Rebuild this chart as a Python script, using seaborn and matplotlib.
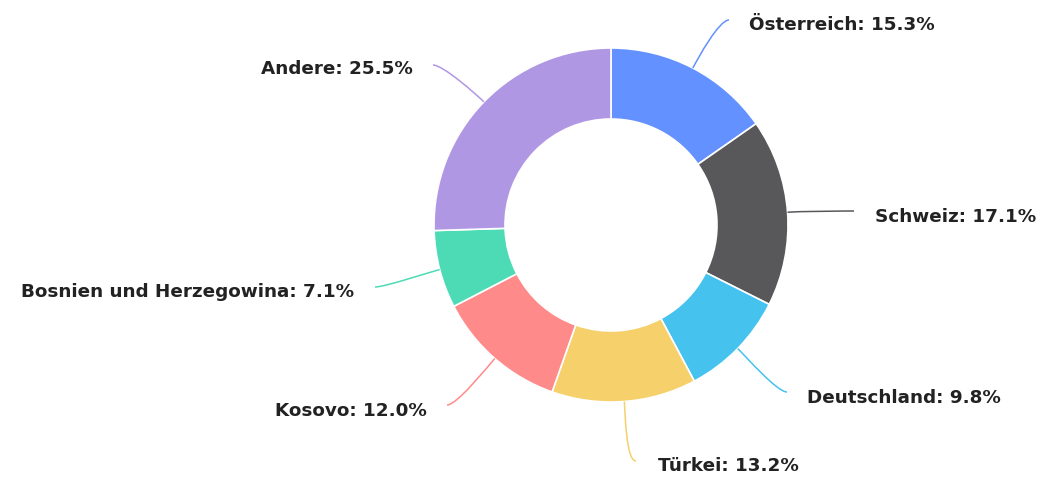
import numpy as np
import matplotlib
matplotlib.use("Agg")
import matplotlib.pyplot as plt
from matplotlib.path import Path
from matplotlib.patches import PathPatch
import seaborn as sns

# Herkunftsländer und Anteile in Prozent
countries = ["Österreich", "Schweiz", "Deutschland", "Türkei", "Kosovo",
             "Bosnien und Herzegowina", "Andere"]
shares = [15.3, 17.1, 9.8, 13.2, 12.0, 7.1, 25.5]
colors = ["#6391FF", "#58585B", "#46C2EF", "#F5D06B", "#FF8A8A",
          "#4DDBB6", "#B097E4"]

sns.set_theme(style="white")
plt.rcParams["font.family"] = ["DejaVu Sans"]

W, H = 1042, 478
fig = plt.figure(figsize=(W / 100, H / 100), dpi=100)
ax = fig.add_axes([0, 0, 1, 1])

cx, cy = 611, H - 225
r_out, r_in = 177, 106

wedges, _ = ax.pie(shares, colors=colors, startangle=90, counterclock=False,
                   center=(cx, cy), radius=r_out, frame=True,
                   wedgeprops=dict(width=r_out - r_in, edgecolor="white",
                                   linewidth=1.2))
ax.set_xlim(0, W)
ax.set_ylim(0, H)
ax.set_aspect("equal")
ax.axis("off")

# Endpunkte der Verbindungslinien und Textanker (Pixel, y von oben)
label_layout = [
    ((729, 20), (749, 30), "left"),
    ((854, 211), (875, 222), "left"),
    ((787, 392), (807, 403), "left"),
    ((636, 461), (658, 471), "left"),
    ((447, 405), (427, 416), "right"),
    ((375, 287), (354, 297), "right"),
    ((433, 65), (413, 74), "right"),
]

for w, name, val, col, (end, txt, ha) in zip(wedges, countries, shares,
                                             colors, label_layout):
    mid = np.deg2rad((w.theta1 + w.theta2) / 2)
    p0 = np.array([cx + r_out * np.cos(mid), cy + r_out * np.sin(mid)])
    p3 = np.array([end[0], H - end[1]], dtype=float)
    direction = np.array([np.cos(mid), np.sin(mid)])
    side = 1 if ha == "left" else -1
    p1 = p0 + direction * 12
    p2 = p3 - np.array([side * 10, 0.0])
    path = Path([p0, p1, p2, p3],
                [Path.MOVETO, Path.CURVE4, Path.CURVE4, Path.CURVE4])
    ax.add_patch(PathPatch(path, facecolor="none", edgecolor=col, lw=1.1))
    ax.text(txt[0], H - txt[1], f"{name}: {val:.1f}%", ha=ha, va="baseline",
            fontsize=13.2, fontweight="bold", color="#222222")

fig.savefig("out.png", dpi=100)
